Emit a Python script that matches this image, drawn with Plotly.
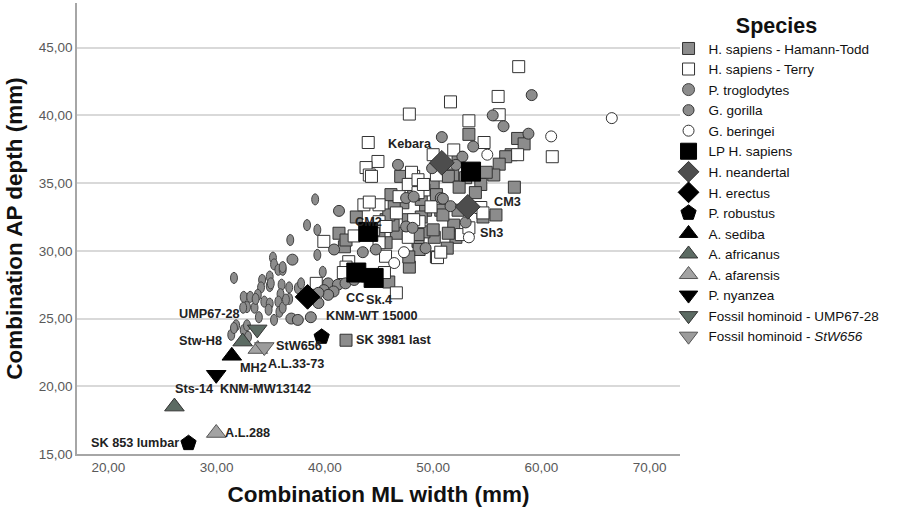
import plotly.graph_objects as go

# ---------------- data ----------------
HT_x = [57.8, 58.4, 57.2, 56.7, 56.1, 55.6, 57.5, 53.3, 54.9, 51.8, 53.0, 54.4, 53.9, 50.0, 50.7,
        52.3, 55.8, 54.6, 51.9, 52.1, 50.1, 47.7, 48.6, 49.3, 48.9, 42.9, 41.3, 41.8, 47.8, 45.9,
        46.1, 47.2, 45.65, 49.15, 51.3, 51.4, 47.0, 46.6, 46.3, 52.3, 48.2, 48.9, 50.0, 48.7, 51.4,
        52.4, 46.4, 45.9, 50.3, 50.9, 48.6, 50.3, 45.65, 45.0, 47.75, 41.95, 41.95]
HT_y = [38.3, 37.9, 37.1, 36.95, 36.4, 35.6, 34.7, 38.6, 35.8, 35.6, 35.4, 34.9, 34.3, 34.9, 33.0,
        33.0, 32.65, 32.5, 31.9, 31.0, 31.0, 32.3, 30.7, 33.0, 33.8, 32.5, 31.3, 30.3, 28.8, 27.7,
        34.15, 33.55, 32.3, 31.4, 30.2, 31.3, 35.5, 31.3, 31.9, 36.9, 34.15, 32.5, 31.55, 30.1, 35.5,
        34.7, 33.25, 32.65, 34.15, 32.65, 31.2, 29.55, 30.6, 31.3, 29.55, 23.4, 30.8]

TE_x = [57.9, 56.0, 56.1, 61.0, 57.8, 51.6, 47.8, 53.3, 44.0, 44.9, 43.8, 54.7, 50.0, 51.9, 48.2,
        47.7, 49.15, 54.4, 52.6, 48.7, 43.6, 39.9, 42.7, 42.2, 45.6, 46.6, 41.95, 45.5, 46.6, 48.2,
        50.4, 48.6, 44.1, 47.7, 44.5, 45.0, 44.3, 48.0, 48.6, 45.0, 50.7, 54.6, 53.3, 49.1, 50.3,
        46.85, 44.1, 49.8, 45.65, 45.0, 39.2, 41.7]
TE_y = [43.6, 41.4, 40.05, 36.95, 37.1, 41.0, 40.1, 39.6, 38.0, 36.6, 36.15, 38.0, 37.1, 37.45, 35.5,
        34.9, 34.5, 33.2, 31.2, 32.15, 33.4, 30.7, 31.1, 29.2, 29.6, 26.9, 28.8, 28.4, 32.8, 32.3,
        29.5, 34.3, 35.6, 31.0, 31.55, 32.15, 35.5, 35.8, 35.25, 33.4, 29.9, 32.8, 31.7, 34.9, 35.6,
        34.0, 33.6, 33.25, 31.8, 30.6, 27.6, 28.4]

PT_x = [39.1, 38.35, 39.3, 36.8, 39.3, 35.2, 35.3, 35.7, 36.1, 31.6, 34.2, 34.9, 34.1, 34.9, 36.0,
        36.7, 37.5, 35.9, 33.8, 32.5, 33.1, 34.4, 34.9, 32.8, 33.5, 34.8, 35.7, 36.7, 35.8, 35.3,
        31.8, 31.35, 32.5, 32.9, 39.8, 38.3, 36.1, 36.4, 32.8, 31.6, 35.0, 36.1, 33.6, 33.9, 32.45,
        37.8]
PT_y = [33.8, 31.9, 31.55, 30.8, 29.7, 29.5, 29.0, 28.6, 28.6, 28.0, 27.85, 28.1, 27.3, 27.4, 27.5,
        27.3, 27.25, 26.8, 26.75, 26.6, 26.6, 26.25, 26.1, 25.85, 25.8, 25.65, 26.25, 26.45, 25.5, 24.9,
        24.5, 23.8, 24.15, 23.65, 28.45, 26.9, 25.8, 26.4, 24.5, 24.3, 27.6, 28.8, 26.45, 25.1, 25.8,
        27.6]

GG_x = [41.3, 40.85, 43.5, 44.7, 40.3, 41.2, 41.9, 39.9, 40.8, 42.7, 43.5, 47.5, 49.3, 50.7, 47.5,
        37.0, 36.9, 37.5, 38.7, 40.3, 39.4, 46.75, 50.8, 55.5, 56.5, 59.1, 58.8, 53.7, 52.7, 49.9,
        48.2, 50.9, 51.6, 53.0, 48.1, 52.1, 39.4]
GG_y = [32.95, 30.1, 29.9, 30.1, 27.6, 27.5, 27.6, 27.1, 27.0, 27.85, 28.1, 31.8, 30.2, 33.9, 33.9,
        29.35, 25.0, 24.9, 25.1, 26.75, 26.15, 36.35, 38.4, 40.0, 39.2, 41.5, 38.65, 37.7, 36.95, 36.1,
        34.0, 33.85, 33.3, 32.1, 31.7, 36.35, 26.9]

GB_x = [66.5, 60.9, 55.0, 53.3, 47.3, 46.4]
GB_y = [39.8, 38.45, 37.1, 31.0, 29.9, 29.1]

LP_x = [42.9, 44.5, 44.0, 53.5]
LP_y = [28.4, 28.0, 31.4, 35.85]
LP_lab = ["CC", "Sk.4", "CM2", ""]

NEA_x = [50.8, 53.2]
NEA_y = [36.5, 33.25]
NEA_lab = ["Kebara", "CM3"]

ERE_x = [38.4]
ERE_y = [26.6]
ERE_lab = ["KNM-WT 15000"]

ROB_x = [27.4, 39.7]
ROB_y = [15.8, 23.65]
ROB_lab = ["SK 853 lumbar", "SK 3981 last"]

SED_x = [31.4]
SED_y = [22.25]
SED_lab = ["MH2"]

AFR_x = [26.1, 32.4]
AFR_y = [18.5, 23.3]
AFR_lab = ["Sts-14", "Stw-H8"]

AFA_x = [29.96, 33.8]
AFA_y = [16.55, 22.75]
AFA_lab = ["A.L.288", "A.L.33-73"]

NYA_x = [29.96]
NYA_y = [20.85]
NYA_lab = ["KNM-MW13142"]

UMP_x = [33.75]
UMP_y = [24.2]
UMP_lab = ["UMP67-28"]

STW_x = [34.4]
STW_y = [22.9]
STW_lab = ["StW656"]

X_TICKS = [20, 30, 40, 50, 60, 70]
Y_TICKS = [15, 20, 25, 30, 35, 40, 45]

# ---------------- styling ----------------
FONT = "Liberation Sans, Arial, sans-serif"
OUT = "#333333"

fig = go.Figure()

def add(name, xs, ys, symbol, size, color, rank, lw=1, lc=OUT):
    fig.add_trace(go.Scatter(
        x=xs, y=ys, mode="markers", name=name, legendrank=rank,
        marker=dict(symbol=symbol, size=size, color=color, line=dict(width=lw, color=lc)),
        hoverinfo="skip"))

add("H. sapiens - Hamann-Todd", HT_x, HT_y, "square", 12, "#8c8c8c", 1)
add("H. sapiens - Terry", TE_x, TE_y, "square", 12, "white", 2)

# P. troglodytes drawn as small vertical ellipses (data-anchored shapes)
HW, HH = 0.32, 0.41
for i, (xv, yv) in enumerate(zip(PT_x, PT_y)):
    fig.add_shape(type="circle", xref="x", yref="y",
                  x0=xv - HW, x1=xv + HW, y0=yv - HH, y1=yv + HH,
                  fillcolor="#8c8c8c", line=dict(color="#444444", width=1),
                  layer="between",
                  showlegend=(i == 0), name="P. troglodytes", legendrank=3)

add("G. gorilla", GG_x, GG_y, "circle", 11, "#8c8c8c", 4)
add("G. beringei", GB_x, GB_y, "circle", 11, "white", 5)
add("LP H. sapiens", LP_x, LP_y, "square", 19, "black", 6, lc="black")
add("H. neandertal", NEA_x, NEA_y, "diamond", 19, "#4d4d4d", 7)
add("H. erectus", ERE_x, ERE_y, "diamond", 19, "black", 8, lc="black")
add("P. robustus", ROB_x, ROB_y, "pentagon", 16, "black", 9, lc="black")
add("A. sediba", SED_x, SED_y, "triangle-up", 17, "black", 10, lc="black")
add("A. africanus", AFR_x, AFR_y, "triangle-up", 17, "#5c6b63", 11)
add("A. afarensis", AFA_x, AFA_y, "triangle-up", 17, "#a3a3a3", 12, lc="#555555")
add("P. nyanzea", NYA_x, NYA_y, "triangle-down", 17, "black", 13, lc="black")
add("Fossil hominoid - UMP67-28", UMP_x, UMP_y, "triangle-down", 17, "#5c6b63", 14)
add("Fossil hominoid - <i>StW656</i>", STW_x, STW_y, "triangle-down", 17, "#9c9c9c", 15, lc="#555555")

# ---------------- point labels ----------------
label_style = {
    "SK 853 lumbar": ("right", -8, 0),
    "A.L.288": ("left", 7, 0),
    "Sts-14": ("left", -1, 18),
    "KNM-MW13142": ("left", 2, -14),
    "MH2": ("left", 6, -12),
    "Stw-H8": ("right", -19, 1),
    "UMP67-28": ("right", -15, 15),
    "StW656": ("left", 10, 1),
    "A.L.33-73": ("left", 8, -15),
    "KNM-WT 15000": ("left", 16, -19),
    "SK 3981 last": ("left", 32, -3),
    "CC": ("left", -12, -25),
    "Sk.4": ("left", -10, -22),
    "CM2": ("center", 0, 10),
    "Kebara": ("right", -8, 19),
    "CM3": ("left", 24, 5),
}
LABEL_FONT = dict(family=FONT, size=12.7, color="#222222", weight="bold")
groups = [(LP_x, LP_y, LP_lab), (NEA_x, NEA_y, NEA_lab), (ERE_x, ERE_y, ERE_lab),
          (ROB_x, ROB_y, ROB_lab), (SED_x, SED_y, SED_lab), (AFR_x, AFR_y, AFR_lab),
          (AFA_x, AFA_y, AFA_lab), (NYA_x, NYA_y, NYA_lab), (UMP_x, UMP_y, UMP_lab),
          (STW_x, STW_y, STW_lab)]
for xs, ys, labs in groups:
    for xv, yv, lab in zip(xs, ys, labs):
        if not lab:
            continue
        anc, dx, dy = label_style[lab]
        fig.add_annotation(x=xv, y=yv, text=lab, showarrow=False, xanchor=anc, yanchor="middle",
                           xshift=dx, yshift=dy, font=LABEL_FONT)
# "Sh3" label placed next to the second neandertal point
fig.add_annotation(x=NEA_x[1], y=NEA_y[1], text="Sh3", showarrow=False, xanchor="left",
                   yanchor="middle", xshift=10, yshift=-26, font=LABEL_FONT)

# ---------------- layout ----------------
fig.update_layout(
    width=901, height=512,
    margin=dict(l=77, r=221, t=3, b=58),
    paper_bgcolor="white", plot_bgcolor="white",
    separators=",.",
    font=dict(family=FONT, color="#222222"),
    showlegend=True,
    legend=dict(
        x=0.981, xanchor="left", y=0.995, yanchor="top",
        title=dict(text="Species", side="top center",
                   font=dict(family=FONT, size=21.5, color="#111111", weight="bold")),
        font=dict(family=FONT, size=13.5, color="#111111"),
        bgcolor="rgba(0,0,0,0)", itemsizing="trace", tracegroupgap=0,
    ),
    xaxis=dict(
        range=[17.1, 72.8], tickvals=X_TICKS, tickformat=".2f",
        showgrid=False, zeroline=False, showline=True, linecolor="#a6a6a6", linewidth=1.5,
        ticks="", tickfont=dict(family=FONT, size=13.5, color="#595959"),
        title=dict(text="Combination ML width (mm)", standoff=12,
                   font=dict(family=FONT, size=22.5, color="#111111", weight="bold")),
        automargin=False,
    ),
    yaxis=dict(
        range=[15, 48.3], tickvals=Y_TICKS, tickformat=".2f",
        showgrid=True, gridcolor="#d9d9d9", gridwidth=1.5, zeroline=False,
        showline=True, linecolor="#a6a6a6", linewidth=1.5,
        ticks="", tickfont=dict(family=FONT, size=13.5, color="#595959"),
        title=dict(text="Combination AP depth (mm)", standoff=10,
                   font=dict(family=FONT, size=22.5, color="#111111", weight="bold")),
        automargin=False,
    ),
)

fig.write_html("out.html", config={"displayModeBar": False},
               post_script="document.body.style.margin='0px';")
